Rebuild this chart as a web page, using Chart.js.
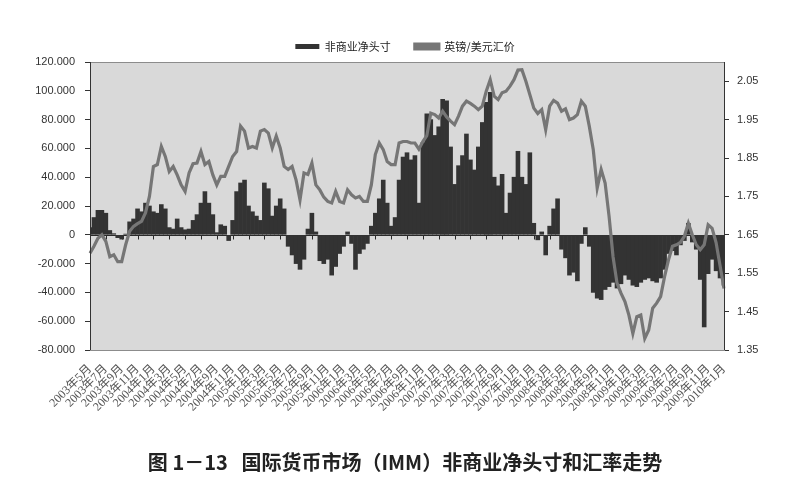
<!DOCTYPE html>
<html>
<head>
<meta charset="utf-8">
<script src="https://cdn.jsdelivr.net/npm/chart.js@4.4.1/dist/chart.umd.min.js"></script>
<style>
  html, body { margin: 0; padding: 0; background: #ffffff; }
  #wrap { position: relative; width: 810px; height: 500px; overflow: hidden; }
</style>
</head>
<body>
<div id="wrap"><canvas id="c" width="810" height="500"></canvas></div>
<script>
const captionText = '图 1－13   国际货币市场（IMM）非商业净头寸和汇率走势';

// x-axis tick labels (one every 4 data points)
const tickLabels = [
  '2003年5月','2003年7月','2003年9月','2003年11月',
  '2004年1月','2004年3月','2004年5月','2004年7月','2004年9月','2004年11月',
  '2005年1月','2005年3月','2005年5月','2005年7月','2005年9月','2005年11月',
  '2006年1月','2006年3月','2006年5月','2006年7月','2006年9月','2006年11月',
  '2007年1月','2007年3月','2007年5月','2007年7月','2007年9月','2007年11月',
  '2008年1月','2008年3月','2008年5月','2008年7月','2008年9月','2008年11月',
  '2009年1月','2009年3月','2009年5月','2009年7月','2009年9月','2009年11月',
  '2010年1月'
];
const pointsPerTick = 4;

// 非商业净头寸 (contracts)
const netPositions = [
  5000, 12000, 17000, 17000, 15000, 3000, 800, -2000, -3000, 500,
  9000, 11000, 18000, 16000, 22000, 20000, 16000, 15000,
  21000, 18000, 5000, 4000, 11000, 5000, 3500, 4000, 10000, 14000,
  22000, 30000, 22000, 14000, 1500, 7000, 6000, -4000, 10000, 30000,
  36000, 38000, 20000, 16000, 13000, 10000, 36000, 32000, 13000, 20000,
  25000, 18000, -8000, -14000, -20000, -24000,
  -17000, 4000, 15000, 2000, -18000, -20000, -17000, -28000, -22000, -13000,
  -8000, 2000, -6000, -24000, -13000, -10000, -6000, 6000, 15000, 25000,
  38000, 22000, 6000, 12000, 38000, 54000, 57000, 52000, 55000, 22000,
  64000, 84000,
  80000, 69000, 75000, 94000, 93000, 61000, 35000, 48000, 55000, 70000,
  52000, 45000, 61000, 78000, 92000, 99000, 40000, 34000, 42000, 15000,
  29000, 40000, 58000, 40000, 35000, 57000, 8000, -3500, 2000, -14000,
  6000, 18000, 25000, -10000, -16000, -28000,
  -26000, -32000, -6000, 5000, -8000, -40000, -44000, -45000, -38000, -36000,
  -33000, -37000, -34000, -28000, -31000, -35000, -36000, -33000, -31000, -30000,
  -32000, -33000, -30000, -24000, -13000, -11000, -14000, -7000, -4000, 8000,
  -5000, -10000, -31000, -64000,
  -27000, -17000, -25000, -30000, -35000
];

// 英镑/美元汇价
const gbpUsd = [
  1.602, 1.62, 1.641, 1.65, 1.633, 1.593, 1.598, 1.58, 1.58, 1.624,
  1.659, 1.672, 1.679, 1.685, 1.707, 1.75, 1.828, 1.833,
  1.88, 1.854, 1.815, 1.828, 1.806, 1.78, 1.763, 1.811, 1.835, 1.837,
  1.867, 1.833, 1.841, 1.806, 1.78, 1.802, 1.802, 1.828, 1.854, 1.867,
  1.933, 1.92, 1.876, 1.88, 1.876, 1.92, 1.924, 1.915, 1.876, 1.907,
  1.876, 1.828, 1.82, 1.828, 1.793, 1.741,
  1.811, 1.807, 1.837, 1.78, 1.767, 1.748, 1.737, 1.733, 1.763, 1.737,
  1.733, 1.767, 1.754, 1.746, 1.75, 1.737, 1.737, 1.78, 1.859, 1.889,
  1.872, 1.841, 1.833, 1.833, 1.889, 1.893, 1.893, 1.889, 1.889, 1.873,
  1.893, 1.908,
  1.967, 1.963, 1.954, 1.972, 1.957, 1.946, 1.937, 1.959, 1.985, 1.998,
  1.992, 1.985, 1.976, 1.985, 2.024, 2.054, 2.011, 2.002, 2.02, 2.024,
  2.037, 2.054, 2.079, 2.08, 2.05, 2.015, 1.98, 1.966, 1.976, 1.924,
  1.985, 2.0, 1.993, 1.972, 1.978, 1.95,
  1.954, 1.963, 1.998, 1.985, 1.933, 1.872, 1.772, 1.82, 1.785, 1.698,
  1.593, 1.524, 1.498, 1.476, 1.441, 1.393, 1.437, 1.441, 1.38, 1.402,
  1.459, 1.472, 1.489, 1.541, 1.585, 1.62, 1.624, 1.63, 1.646, 1.68,
  1.65, 1.624, 1.611, 1.624,
  1.676, 1.667, 1.63, 1.57, 1.51
];

const leftTicks = [-80000, -60000, -40000, -20000, 0, 20000, 40000, 60000, 80000, 100000, 120000];
const rightTicks = [1.35, 1.45, 1.55, 1.65, 1.75, 1.85, 1.95, 2.05];

const seriesNames = ['非商业净头寸', '英镑/美元汇价'];

// category labels built from the tick labels
const categories = netPositions.map((_, i) =>
  (i % pointsPerTick === 0 && tickLabels[i / pointsPerTick]) ? tickLabels[i / pointsPerTick] : '');

function fmtLeft(v) {
  if (v === 0) return '0';
  const s = Math.abs(v).toString().replace(/\B(?=(\d{3})+(?!\d))/g, '.');
  return (v < 0 ? '-' : '') + s;
}

const plotDeco = {
  id: 'plotDeco',
  beforeDraw(chart) {
    const { ctx, chartArea: a } = chart;
    ctx.save();
    ctx.fillStyle = '#d9d9d9';
    ctx.fillRect(a.left, a.top, a.right - a.left, a.bottom - a.top);
    ctx.restore();
  },
  beforeDatasetsDraw(chart) {
    const { ctx, chartArea: a, scales } = chart;
    const y0 = Math.round(scales.y.getPixelForValue(0)) + 0.5;
    ctx.save();
    ctx.strokeStyle = '#2a2a2a';
    ctx.lineWidth = 1;
    ctx.beginPath();
    ctx.moveTo(a.left, y0); ctx.lineTo(a.right, y0);
    for (let k = 0; k < tickLabels.length; k++) {
      const x = Math.round(scales.x.getPixelForValue(k * pointsPerTick)) + 0.5;
      ctx.moveTo(x, y0); ctx.lineTo(x, y0 + 4);
    }
    ctx.stroke();
    ctx.restore();
  },
  afterDraw(chart) {
    const { ctx, chartArea: a } = chart;
    ctx.save();
    ctx.strokeStyle = '#8c8c8c';
    ctx.lineWidth = 1;
    ctx.strokeRect(Math.round(a.left) + 0.5, Math.round(a.top) + 0.5,
      Math.round(a.right - a.left), Math.round(a.bottom - a.top));
    ctx.strokeStyle = '#333';
    ctx.beginPath();
    ctx.moveTo(Math.round(a.left) + 0.5, a.top); ctx.lineTo(Math.round(a.left) + 0.5, a.bottom);
    ctx.moveTo(Math.round(a.right) + 0.5, a.top); ctx.lineTo(Math.round(a.right) + 0.5, a.bottom);
    ctx.stroke();
    ctx.restore();
  }
};

new Chart(document.getElementById('c'), {
  type: 'bar',
  data: {
    labels: categories,
    datasets: [
      {
        type: 'bar',
        label: seriesNames[0],
        data: netPositions,
        backgroundColor: '#333333',
        borderWidth: 0,
        barPercentage: 1.0,
        categoryPercentage: 1.0,
        yAxisID: 'y',
        order: 2
      },
      {
        type: 'line',
        label: seriesNames[1],
        data: gbpUsd,
        borderColor: '#767676',
        backgroundColor: '#767676',
        borderWidth: 3.2,
        pointRadius: 0,
        tension: 0,
        fill: false,
        yAxisID: 'y1',
        order: 1
      }
    ]
  },
  options: {
    responsive: false,
    animation: false,
    devicePixelRatio: 1,
    layout: { padding: { top: 17, left: 0, right: 0, bottom: 0 } },
    plugins: {
      title: {
        display: true,
        position: 'bottom',
        text: captionText,
        color: '#222',
        font: { family: '"Noto Sans CJK SC", sans-serif', size: 20, weight: 'bold', lineHeight: 1.2 },
        padding: { top: 10, bottom: 26 }
      },
      legend: {
        position: 'top',
        labels: {
          boxWidth: 24,
          boxHeight: 5,
          padding: 24,
          color: '#222',
          font: { family: '"Noto Sans CJK SC", sans-serif', size: 11 },
          sort: (a, b) => a.datasetIndex - b.datasetIndex
        }
      },
      tooltip: { enabled: false }
    },
    scales: {
      x: {
        type: 'category',
        offset: false,
        grid: { display: false },
        border: { display: false },
        afterFit: s => { s.height = 90; },
        ticks: {
          autoSkip: false,
          minRotation: 45,
          maxRotation: 45,
          padding: 4,
          color: '#555',
          font: { family: '"Liberation Serif", "Noto Sans CJK SC", serif', size: 12 },
          callback: function (v, i) { return categories[i]; }
        }
      },
      y: {
        position: 'left',
        min: -80000,
        max: 120000,
        afterBuildTicks: s => { s.ticks = leftTicks.map(v => ({ value: v })); },
        afterFit: s => { s.width = 90; },
        grid: { drawOnChartArea: false, tickColor: '#333', tickLength: 5 },
        border: { display: true, color: '#333' },
        ticks: {
          padding: 10,
          color: '#333',
          font: { family: '"Liberation Sans", Arial, sans-serif', size: 11 },
          callback: v => fmtLeft(v)
        }
      },
      y1: {
        position: 'right',
        min: 1.35,
        max: 2.10,
        afterBuildTicks: s => { s.ticks = rightTicks.map(v => ({ value: v })); },
        afterFit: s => { s.width = 86; },
        grid: { drawOnChartArea: false, tickColor: '#333', tickLength: 5 },
        border: { display: true, color: '#333' },
        ticks: {
          padding: 8,
          color: '#333',
          font: { family: '"Liberation Sans", Arial, sans-serif', size: 11 },
          callback: v => v.toFixed(2)
        }
      }
    }
  },
  plugins: [plotDeco]
});
</script>
</body>
</html>
